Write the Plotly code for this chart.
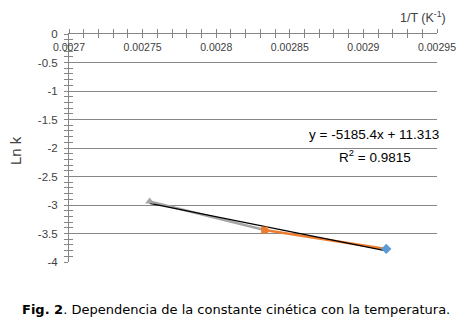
import plotly.graph_objects as go

# Data (1/T in K^-1, Ln k)
tri_x = [0.0027548, 0.0028329]     # gray series (363 K -> 353 K)
tri_y = [-2.94, -3.44]
sq_x = [0.0028329, 0.0029155]      # orange series (353 K -> 343 K)
sq_y = [-3.44, -3.77]
dia_x = [0.0029155]                # blue point (343 K)
dia_y = [-3.77]
trend_slope = -5185.4
trend_intercept = 11.313
r2 = 0.9815

x_ticks = [0.0027, 0.00275, 0.0028, 0.00285, 0.0029, 0.00295]
x_ticktext = ["0.0027", "0.00275", "0.0028", "0.00285", "0.0029", "0.00295"]
y_ticks = [0, -0.5, -1, -1.5, -2, -2.5, -3, -3.5, -4]
y_ticktext = ["0", "-0.5", "-1", "-1.5", "-2", "-2.5", "-3", "-3.5", "-4"]

all_x = tri_x + sq_x + dia_x
tx = [min(all_x), max(all_x)]
ty = [trend_slope * v + trend_intercept for v in tx]

GRAY = "#A5A5A5"
ORANGE = "#ED7D31"
BLUE = "#5B9BD5"
AX = "#868686"
FONT = "Liberation Sans"

fig = go.Figure()
fig.add_trace(go.Scatter(x=tri_x, y=tri_y, mode="lines", line=dict(color=GRAY, width=2.5),
                         showlegend=False, hoverinfo="skip"))
fig.add_trace(go.Scatter(x=sq_x, y=sq_y, mode="lines", line=dict(color=ORANGE, width=2.5),
                         showlegend=False, hoverinfo="skip"))
fig.add_trace(go.Scatter(x=tx, y=ty, mode="lines", line=dict(color="black", width=1.2),
                         showlegend=False, hoverinfo="skip"))
fig.add_trace(go.Scatter(x=[tri_x[0]], y=[tri_y[0]], mode="markers",
                         marker=dict(symbol="triangle-up", size=8, color=GRAY), showlegend=False))
fig.add_trace(go.Scatter(x=[sq_x[0]], y=[sq_y[0]], mode="markers",
                         marker=dict(symbol="square", size=7, color=ORANGE), showlegend=False))
fig.add_trace(go.Scatter(x=dia_x, y=dia_y, mode="markers",
                         marker=dict(symbol="diamond", size=8, color=BLUE), showlegend=False))
# invisible trace for overlay axes (cross ticks)
fig.add_trace(go.Scatter(x=[tx[0]], y=[ty[0]], xaxis="x2", yaxis="y2", mode="markers",
                         marker=dict(opacity=0), showlegend=False, hoverinfo="skip"))

xr = [0.0027, 0.00295]
yr = [-4, 0]

fig.update_layout(
    width=471, height=324,
    margin=dict(l=69, r=34, t=34, b=62),
    paper_bgcolor="white", plot_bgcolor="white",
    font=dict(family=FONT, color="#404040", size=11),
    xaxis=dict(range=xr, side="top", anchor="y", tickvals=x_ticks, ticktext=x_ticktext,
               ticklabelposition="inside", ticklabeloverflow="allow", ticklabelstandoff=5,
               showgrid=False, zeroline=False,
               showline=True, linecolor=AX, linewidth=1,
               ticks="inside", ticklen=4, tickcolor=AX,
               minor=dict(dtick=0.00001, ticks="inside", ticklen=4, tickcolor=AX, showgrid=False),
               tickfont=dict(size=10.5, color="#404040")),
    xaxis2=dict(range=xr, overlaying="x", side="top", anchor="y", showticklabels=False,
                showgrid=False, zeroline=False, showline=False,
                tickvals=x_ticks, ticks="outside", ticklen=4, tickcolor=AX,
                minor=dict(dtick=0.00001, ticks="outside", ticklen=4, tickcolor=AX, showgrid=False)),
    yaxis=dict(range=yr, tickvals=y_ticks, ticktext=y_ticktext, showgrid=True, gridcolor=AX,
               gridwidth=1, zeroline=False, showline=True, linecolor=AX, linewidth=1,
               ticks="outside", ticklen=4, tickcolor=AX, ticklabelstandoff=4,
               ticklabeloverflow="allow",
               minor=dict(dtick=0.1, ticks="outside", ticklen=4, tickcolor=AX, showgrid=False),
               tickfont=dict(size=11.5, color="#404040")),
    yaxis2=dict(range=yr, overlaying="y", side="left", anchor="x", showticklabels=False,
                showgrid=False, zeroline=False, showline=False,
                tickvals=y_ticks, ticks="inside", ticklen=4, tickcolor=AX,
                minor=dict(dtick=0.1, ticks="inside", ticklen=4, tickcolor=AX, showgrid=False)),
)

def px_x(p):
    return (p - 69) / 368

def px_y(p):
    return (262 - p) / 228

fig.add_annotation(text="1/T (K<sup>-1</sup>)", xref="paper", yref="paper",
                   x=px_x(423), y=px_y(17), xanchor="center", yanchor="middle",
                   showarrow=False, font=dict(size=12.5, color="#404040", family=FONT))
fig.add_annotation(text="Ln k", xref="paper", yref="paper", x=px_x(15), y=px_y(150),
                   xanchor="center", yanchor="middle", textangle=-90,
                   showarrow=False, font=dict(size=15, color="#404040", family=FONT))
fig.add_annotation(text=f"y = {trend_slope}x + {trend_intercept}", xref="paper", yref="paper",
                   x=px_x(374), y=px_y(134), xanchor="center", yanchor="middle", showarrow=False,
                   font=dict(size=13.5, color="black", family=FONT))
fig.add_annotation(text=f"R<sup>2</sup> = {r2}", xref="paper", yref="paper",
                   x=px_x(375), y=px_y(156), xanchor="center", yanchor="middle", showarrow=False,
                   font=dict(size=13.5, color="black", family=FONT))
fig.add_annotation(text="<b>Fig. 2</b>. Dependencia de la constante cinética con la temperatura.",
                   xref="paper", yref="paper", x=px_x(236), y=px_y(309),
                   xanchor="center", yanchor="middle",
                   showarrow=False, font=dict(size=13, color="black", family="DejaVu Sans"))

fig.write_html("out.html")
